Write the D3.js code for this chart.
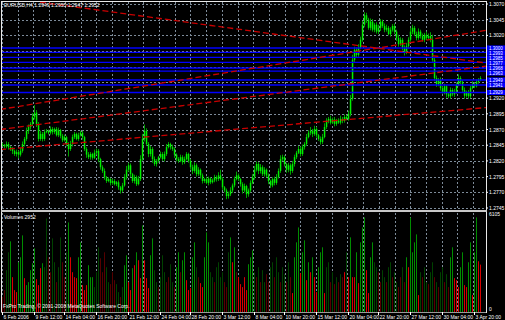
<!DOCTYPE html>
<html><head><meta charset="utf-8">
<script src="https://cdn.jsdelivr.net/npm/d3@7"></script>
<style>html,body{margin:0;padding:0;background:#000;overflow:hidden}</style>
</head><body><svg id="c" width="505" height="320"></svg>
<script>
const symbolTitle = "EURUSD,H4";
const firstOpen = 1.2846;
const closes = [
1.2845,1.2843,1.2847,1.2842,1.2839,1.2836,1.2831,1.2834,1.2830,1.2836,
1.2847,1.2855,1.2868,1.2874,1.2879,1.2890,1.2897,1.2879,1.2855,1.2863,
1.2855,1.2866,1.2868,1.2865,1.2871,1.2866,1.2871,1.2861,1.2869,1.2860,
1.2853,1.2858,1.2847,1.2839,1.2847,1.2858,1.2863,1.2855,1.2861,1.2865,
1.2858,1.2839,1.2830,1.2826,1.2831,1.2825,1.2833,1.2836,1.2823,1.2810,
1.2804,1.2794,1.2788,1.2791,1.2785,1.2788,1.2783,1.2786,1.2778,1.2773,
1.2781,1.2794,1.2806,1.2813,1.2799,1.2788,1.2794,1.2783,1.2791,1.2823,
1.2855,1.2868,1.2847,1.2831,1.2839,1.2823,1.2815,1.2820,1.2826,1.2831,
1.2823,1.2831,1.2842,1.2847,1.2842,1.2839,1.2830,1.2823,1.2820,1.2826,
1.2818,1.2823,1.2831,1.2820,1.2810,1.2804,1.2813,1.2799,1.2806,1.2797,
1.2788,1.2791,1.2785,1.2792,1.2786,1.2789,1.2794,1.2791,1.2797,1.2791,
1.2778,1.2773,1.2764,1.2767,1.2773,1.2781,1.2791,1.2797,1.2791,1.2783,
1.2773,1.2780,1.2767,1.2773,1.2785,1.2794,1.2806,1.2815,1.2804,1.2810,
1.2799,1.2806,1.2797,1.2788,1.2781,1.2791,1.2785,1.2794,1.2804,1.2823,
1.2826,1.2815,1.2806,1.2813,1.2804,1.2815,1.2826,1.2833,1.2839,1.2831,
1.2842,1.2847,1.2858,1.2865,1.2868,1.2863,1.2871,1.2861,1.2855,1.2850,
1.2858,1.2874,1.2884,1.2887,1.2881,1.2886,1.2879,1.2884,1.2881,1.2887,
1.2884,1.2890,1.2887,1.2895,1.2919,1.2981,1.2997,1.2989,1.3000,1.3013,
1.3037,1.3052,1.3045,1.3032,1.3042,1.3029,1.3037,1.3026,1.3032,1.3042,
1.3035,1.3029,1.3032,1.3022,1.3029,1.3035,1.3026,1.3016,1.3006,1.3013,
1.3000,1.2993,1.3003,1.3013,1.3026,1.3032,1.3022,1.3016,1.3026,1.3019,
1.3013,1.3021,1.3016,1.3019,1.3013,1.2981,1.2952,1.2942,1.2949,1.2936,
1.2930,1.2939,1.2926,1.2923,1.2933,1.2926,1.2930,1.2941,1.2952,1.2946,
1.2933,1.2924,1.2930,1.2923,1.2936,1.2942,1.2939,1.2946,1.2949,1.2952];
const upWick = [
3,2,4,3,2,3,2,4,3,5, 4,3,5,4,3,6,12,4,3,5, 3,4,3,2,4,3,2,3,4,2, 3,4,2,3,5,4,3,2,4,3,
3,2,3,4,3,2,5,4,3,2, 3,4,2,3,2,4,3,2,3,2, 4,5,6,4,3,2,4,3,5,6, 8,10,4,3,5,3,4,3,2,4,
3,4,5,3,2,4,3,2,3,4, 3,4,3,2,3,4,5,3,4,2, 3,2,4,3,2,3,4,3,5,9, 3,2,3,4,5,3,4,6,3,2,
3,4,2,3,4,5,6,4,3,5, 3,4,2,3,2,3,4,5,4,6, 4,3,2,4,3,5,4,3,5,4, 4,3,5,4,6,3,5,3,2,4,
5,6,4,3,5,3,4,3,4,5, 3,4,3,5,6,8,5,4,6,5, 6,5,4,3,5,4,3,4,5,4, 3,4,5,3,4,3,4,3,5,4,
3,4,5,4,6,5,3,4,5,3, 4,3,5,4,6,8,5,4,3,4, 3,4,2,3,4,3,5,4,6,3, 3,4,2,3,4,5,3,4,3,3];
const dnWick = [
2,3,3,4,3,5,3,4,6,3, 3,4,3,5,4,3,4,5,4,3, 4,3,2,3,3,4,3,2,3,4, 3,2,4,12,3,4,3,2,3,2,
4,3,5,3,4,3,2,3,5,4, 3,4,3,2,4,3,2,3,4,5, 3,2,4,3,5,3,4,3,2,3, 3,4,3,5,4,6,3,4,3,2,
3,4,3,2,4,3,5,4,3,2, 4,3,2,3,4,5,3,4,3,5, 4,3,2,4,3,2,3,4,3,2, 4,3,5,4,3,4,3,2,3,4,
5,3,6,4,3,2,4,3,5,4, 3,4,3,5,4,3,4,3,2,3, 3,4,5,4,6,3,4,3,2,4, 3,4,3,2,4,5,3,4,3,4,
3,2,3,4,3,2,4,3,2,3, 4,3,2,3,4,3,5,4,3,2, 3,4,5,3,4,3,4,3,4,5, 3,4,3,2,4,3,4,5,4,3,
4,5,3,4,3,4,3,4,3,4, 3,4,3,2,4,3,5,4,3,4, 3,4,5,3,4,3,4,3,2,4, 3,5,3,4,3,2,3,2,3,2];
const volumes = [
930,1364,2604,3720,4402,2170,1364,1240,3100,3410,
4774,2108,1674,1860,2604,3038,3968,2046,1674,2728,
3038,2790,5828,3410,2480,4588,3100,1860,2790,4650,
3100,2170,3720,5580,3410,2480,2170,2108,3410,4340,
1674,1364,1674,2914,2170,2170,1550,2480,4030,3348,
2480,3720,2790,1860,1736,2480,1984,1736,1240,930,
1550,2914,3534,1860,1364,2728,2914,3720,3224,2108,
5394,3224,2108,1488,3534,4588,2604,1860,1550,2170,
3534,2480,1860,2170,2976,1860,1550,2790,3720,2480,
3224,3720,1984,1364,1488,3410,4340,2790,2170,1798,
1550,3410,4960,4340,2480,2170,1860,2790,3100,2170,
2480,1860,1550,3720,4650,3100,4030,2480,2170,1736,
1550,2170,1364,2976,3410,3844,2480,2170,2790,1860,
2604,1860,2356,1860,2790,3100,2170,3410,2480,1860,
2790,2356,1860,3100,2170,1178,3410,4340,5270,2418,
3720,4464,1984,3100,2480,3410,2170,1240,2790,3720,
4030,1178,2790,3100,1860,2480,1736,2170,1860,2356,
2170,2480,3720,2170,4650,2170,2170,3720,1798,4340,
5270,5890,2604,1178,3410,4340,3100,2790,2480,1860,
2604,2170,1860,2790,3100,2170,2480,1860,1550,2170,
2790,1860,3410,2790,5890,3720,4340,4836,1054,2480,
2170,2790,1860,1736,2480,3100,2170,1860,1550,2480,
2790,1860,2356,1550,3410,4030,2108,1984,1550,2790,
3720,1674,1550,3100,4340,1054,3720,5890,3162,2952];
const volCodes = "rrggGRRRGG"+"GRGGGGGRRR"+"Gggrrggrgg"+"rrgGRRRRGG"+"RRRGGGgggr"+
"rrggrrrggr"+"gGGRRGRGRR"+"GRRRGGggrg"+"ggrrggrGGr"+"GGRRRGGgrR"+
"RGGGggrggg"+"grrgGRGrRR"+"RRRGGGgrgr"+"ggrrggrggr"+"ggrgrRGGGR"+
"GGRGRGRRGG"+"GRggrgrgrg"+"rRgRGRRGRG"+"GGRRGGggrr"+"ggrggrggrr"+
"grGRGGGGRg"+"rggrggrgrg"+"grgrGGRRRG"+"GRRGGRGGRR";
const priceTicks = [1.3070,1.3045,1.3020,1.2995,1.2970,1.2945,1.2920,1.2895,1.2870,1.2845,1.2820,1.2795,1.2770,1.2745];
const volMax = 6105;
const dateTickBars = [0,16,31,47,63,79,94,110,126,141,157,173,188,204,220,236];
const dateTickLabels = ["6 Feb 2006","9 Feb 12:00","14 Feb 04:00","16 Feb 20:00","21 Feb 12:00","24 Feb 04:00",
"28 Feb 20:00","3 Mar 12:00","8 Mar 04:00","10 Mar 20:00","15 Mar 12:00","20 Mar 04:00","22 Mar 20:00",
"27 Mar 12:00","30 Mar 04:00","3 Apr 20:00"];
const gridStepBars = 7.85;
const blueLevels = [1.3000,1.2993,1.2985,1.2977,1.2968,1.2963,1.2949,1.2941,1.2929];
const trendLines = [[19,1.3073,242,1.2976],[-1,1.2902,242,1.3028],[-1,1.2870,242,1.2971],[-1,1.2838,242,1.2905]];
const copyright = "FxPro Trading, \u00a9 2001-2008 MetaQuotes Software Corp.";

const svg = d3.select("#c");
const L=2, R=486, mainT=2, mainB=210, volT=213, volB=312;
const x = d3.scaleLinear().domain([0,240]).range([2,482]);
const y = d3.scaleLinear().domain([1.2745,1.3070]).range([208,4]);
const yv = d3.scaleLinear().domain([0,volMax]).range([312,214]);
const font = "'Liberation Sans', Arial, sans-serif";
const bars = closes.map((c,i)=>{const o = i===0?firstOpen:closes[i-1];
  return {i,o,c,h:Math.max(o,c)+upWick[i]*0.0001,l:Math.min(o,c)-dnWick[i]*0.0001,v:volumes[i],k:volCodes[i]};});

svg.append("rect").attr("width",505).attr("height",320).attr("fill","#000");
const defs = svg.append("defs");
defs.append("clipPath").attr("id","cm").append("rect").attr("x",L).attr("y",mainT).attr("width",R-L).attr("height",mainB-mainT);
defs.append("clipPath").attr("id","cv").append("rect").attr("x",L).attr("y",volT).attr("width",R-L).attr("height",volB-volT);

const gridColor="#7d8b99";
const gm = svg.append("g").attr("clip-path","url(#cm)");
gm.selectAll(".hg").data(priceTicks).join("line").attr("x1",L).attr("x2",R)
  .attr("y1",d=>Math.round(y(d))+0.5).attr("y2",d=>Math.round(y(d))+0.5)
  .attr("stroke",gridColor).attr("stroke-dasharray","2,2");
const gridBars = d3.range(0,31).map(k=>k*gridStepBars);
gm.selectAll(".vg").data(gridBars).join("line").attr("y1",mainT).attr("y2",mainB)
  .attr("x1",d=>Math.round(x(d))+0.5).attr("x2",d=>Math.round(x(d))+0.5)
  .attr("stroke",gridColor).attr("stroke-dasharray","2,2");
const gvv = svg.append("g").attr("clip-path","url(#cv)");
gvv.selectAll("line").data(gridBars).join("line").attr("y1",volT).attr("y2",volB)
  .attr("x1",d=>Math.round(x(d))+0.5).attr("x2",d=>Math.round(x(d))+0.5)
  .attr("stroke",gridColor).attr("stroke-dasharray","2,2");

// candles
const gc = gm.append("g");
gc.selectAll("line").data(bars).join("line")
  .attr("x1",d=>x(d.i)+0.5).attr("x2",d=>x(d.i)+0.5).attr("y1",d=>y(d.h)).attr("y2",d=>y(d.l))
  .attr("stroke","#00a000").attr("stroke-width",1);
gc.selectAll("rect").data(bars).join("rect")
  .attr("x",d=>x(d.i)-0.2).attr("width",1.5)
  .attr("y",d=>y(Math.max(d.o,d.c))).attr("height",d=>Math.max(1,Math.abs(y(d.o)-y(d.c))))
  .attr("fill","#00f000");

// blue horizontal levels
gm.selectAll(".bl").data(blueLevels).join("line").attr("x1",L).attr("x2",R)
  .attr("y1",d=>y(d)).attr("y2",d=>y(d)).attr("stroke","#0000ff").attr("stroke-width",1.4);
// red trend lines
gm.selectAll(".tl").data(trendLines).join("line")
  .attr("x1",d=>x(d[0])).attr("y1",d=>y(d[1])).attr("x2",d=>x(d[2])).attr("y2",d=>y(d[3]))
  .attr("stroke","#c80000").attr("stroke-width",1.3).attr("stroke-dasharray","6,3");

// volumes
const vcol = {G:"#008c00",g:"#004200",R:"#d80000",r:"#560000"};
gvv.selectAll("rect").data(bars).join("rect")
  .attr("x",d=>x(d.i)).attr("width",1).attr("y",d=>yv(d.v)).attr("height",d=>yv(0)-yv(d.v))
  .attr("fill",d=>vcol[d.k]);

// frame
const fr = svg.append("g").attr("stroke","#e8e8e8").attr("stroke-width",1);
fr.append("line").attr("x1",1).attr("x2",R).attr("y1",1.5).attr("y2",1.5);
fr.append("line").attr("x1",1.5).attr("x2",1.5).attr("y1",1).attr("y2",volB+1);
fr.append("line").attr("x1",R+0.5).attr("x2",R+0.5).attr("y1",1).attr("y2",volB+1);
svg.append("rect").attr("x",1).attr("y",210).attr("width",R).attr("height",2).attr("fill","#c8c8c8");
svg.append("line").attr("x1",1).attr("x2",R).attr("y1",volB+0.5).attr("y2",volB+0.5).attr("stroke","#9a9a9a");

// blue level labels, dodged so they do not overlap
const blueSorted = blueLevels.slice().sort((a,b)=>b-a);
const bluePos = [];
blueSorted.forEach((p,i)=>{let yy=y(p); if(i>0) yy=Math.max(yy,bluePos[i-1]+5); bluePos.push(yy);});
// price axis (labels hidden behind blue labels are skipped, as in the reference)
const visibleTicks = priceTicks.filter(p=>!bluePos.some(b=>Math.abs(b-y(p))<5));
const pa = svg.append("g").attr("font-family",font).attr("font-size","5px").attr("fill","#ffffff");
pa.selectAll("line").data(priceTicks).join("line").attr("x1",R).attr("x2",R+2)
  .attr("y1",d=>y(d)).attr("y2",d=>y(d)).attr("stroke","#fff");
pa.selectAll("text").data(visibleTicks).join("text").attr("x",R+3).attr("y",d=>y(d)+2)
  .text(d=>d.toFixed(4));
const bb = svg.append("g").attr("font-family",font).attr("font-size","4.5px");
bb.selectAll("rect").data(blueSorted).join("rect").attr("x",R+1).attr("y",(d,i)=>bluePos[i]-2.5).attr("width",18).attr("height",5).attr("fill","#0000ff");
bb.selectAll("text").data(blueSorted).join("text").attr("x",R+3).attr("y",(d,i)=>bluePos[i]+1.7).attr("fill","#fff").text(d=>d.toFixed(4));

// volume axis
const va = svg.append("g").attr("font-family",font).attr("font-size","5px").attr("fill","#fff");
va.append("text").attr("x",R+3).attr("y",yv(volMax)+2).text(volMax);
va.append("text").attr("x",R+3).attr("y",yv(0)-1).text("0");

// date axis
const da = svg.append("g").attr("font-family",font).attr("font-size","5px").attr("fill","#fff");
da.selectAll("line").data(dateTickBars).join("line").attr("x1",d=>x(d)+0.5).attr("x2",d=>x(d)+0.5)
  .attr("y1",volB).attr("y2",volB+3).attr("stroke","#fff");
da.selectAll("text").data(dateTickBars).join("text").attr("x",d=>x(d)+1.5).attr("y",318.5)
  .text((d,i)=>dateTickLabels[i]);

// texts
const last = bars[bars.length-1];
svg.append("text").attr("x",4).attr("y",7).attr("font-family",font).attr("font-size","5px").attr("fill","#fff")
  .text(`${symbolTitle} ${last.o.toFixed(4)} ${last.h.toFixed(4)} ${last.l.toFixed(4)} ${last.c.toFixed(4)}`);
svg.append("text").attr("x",4).attr("y",219).attr("font-family",font).attr("font-size","5px").attr("fill","#fff")
  .text(`Volumes ${last.v}`);
svg.append("text").attr("x",3).attr("y",308).attr("font-family",font).attr("font-size","5px").attr("fill","#fff")
  .text(copyright);
</script></body></html>
